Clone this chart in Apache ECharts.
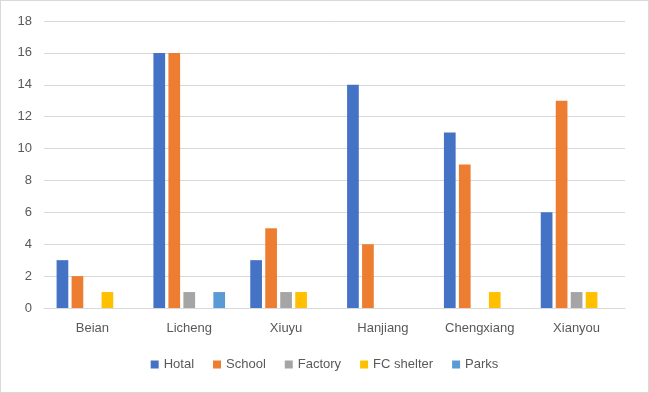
<!DOCTYPE html>
<html><head><meta charset="utf-8">
<script src="https://cdn.jsdelivr.net/npm/echarts@6/dist/echarts.min.js"></script>
<style>
html,body{margin:0;padding:0;background:#fff;}
#c{width:649px;height:393px;box-sizing:border-box;border:1px solid #d9d9d9;}
</style></head>
<body><div id="c"></div>
<script>
const categories = ['Beian','Licheng','Xiuyu','Hanjiang','Chengxiang','Xianyou'];
const seriesNames = ['Hotal','School','Factory','FC shelter','Parks'];
const hotal = [3,16,3,14,11,6];
const school = [2,16,5,4,9,13];
const factory = [0,1,1,0,0,1];
const fcShelter = [1,0,1,0,1,1];
const parks = [0,1,0,0,0,0];
const colors = ['#4472C4','#ED7D31','#A5A5A5','#FFC000','#5B9BD5'];
const allData = [hotal,school,factory,fcShelter,parks];

const chart = echarts.init(document.getElementById('c'));
const font = '"Liberation Sans", "Noto Sans", sans-serif';
chart.setOption({
  animation:false,
  textStyle:{fontFamily:font},
  grid:{left:43,right:23,top:20,bottom:84},
  legend:{
    bottom:16,left:'center',
    itemWidth:8,itemHeight:8,itemGap:19,icon:'rect',
    textStyle:{color:'#595959',fontSize:13,fontFamily:font},
    data:seriesNames
  },
  xAxis:{
    type:'category',data:categories,
    axisLine:{lineStyle:{color:'#d9d9d9'}},
    axisTick:{show:false},
    axisLabel:{color:'#595959',fontSize:13,margin:14,fontFamily:font}
  },
  yAxis:{
    type:'value',min:0,max:18,interval:2,
    axisLine:{show:false},axisTick:{show:false},
    splitLine:{lineStyle:{color:'#d9d9d9'}},
    axisLabel:{color:'#595959',fontSize:13,margin:12,fontFamily:font}
  },
  series: seriesNames.map((n,i)=>({
    name:n,type:'bar',data:allData[i],
    itemStyle:{color:colors[i]},
    barGap:'28%',barCategoryGap:'26%'
  }))
});
</script></body></html>
